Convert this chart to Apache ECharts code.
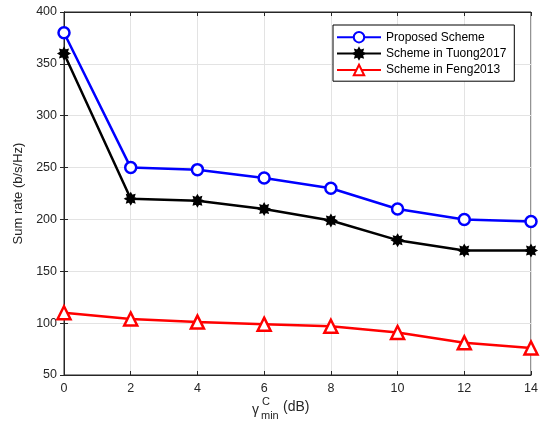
<!DOCTYPE html>
<html>
<head>
<meta charset="utf-8">
<script src="https://cdn.jsdelivr.net/npm/echarts@6/dist/echarts.min.js"></script>
<style>
  html, body { margin: 0; padding: 0; background: #fff; }
  #chart { width: 543px; height: 430px; }
</style>
</head>
<body>
<div id="chart"></div>
<script>
// data
const gammaDb = [0, 2, 4, 6, 8, 10, 12, 14];
const proposed = [380, 250, 248, 240, 230, 210, 200, 198];
const tuong2017 = [360, 220, 218, 210, 199, 180, 170, 170];
const feng2013 = [110, 104, 101, 99, 97, 91, 81, 76];
const seriesNames = ["Proposed Scheme", "Scheme in Tuong2017", "Scheme in Feng2013"];

// 8 point star for the black markers
function starPath() {
  let p = [];
  for (let k = 0; k < 16; k++) {
    const a = (k * Math.PI) / 8;
    const r = k % 2 ? 0.62 : 1;
    p.push((k ? "L" : "M") + (Math.sin(a) * r * 10).toFixed(2) + "," + (-Math.cos(a) * r * 10).toFixed(2));
  }
  return "path://" + p.join(" ") + " Z";
}

const font = "Liberation Sans, Arial, sans-serif";
const txt = "#262626";

var myChart = echarts.init(document.getElementById("chart"));

const pairs = (ys) => gammaDb.map((x, i) => [x, ys[i]]);

myChart.setOption({
  animation: false,
  textStyle: { fontFamily: font },
  grid: {
    left: 64, right: 12, top: 12, bottom: 55,
    show: true, borderColor: txt, borderWidth: 1
  },
  legend: {
    orient: "vertical",
    left: 333, top: 25,
    backgroundColor: "#fff",
    borderColor: "#000", borderWidth: 1,
    padding: [6, 8, 5, 3],
    itemGap: 4,
    itemWidth: 44, itemHeight: 13,
    textStyle: { fontSize: 12, color: "#000", fontFamily: font },
    data: seriesNames
  },
  xAxis: [
    {
      type: "value", min: 0, max: 14, interval: 2,
      axisLine: { show: true, lineStyle: { color: txt } },
      axisTick: { show: true, inside: true, length: 4, lineStyle: { color: txt } },
      axisLabel: { color: txt, fontSize: 12.5, margin: 7 },
      splitLine: { show: true, lineStyle: { color: "#e3e3e3" } }
    },
    {
      type: "value", min: 0, max: 14, interval: 2, position: "top",
      axisLine: { show: true, lineStyle: { color: txt } },
      axisTick: { show: true, inside: true, length: 4, lineStyle: { color: txt } },
      axisLabel: { show: false },
      splitLine: { show: false }
    }
  ],
  yAxis: [
    {
      type: "value", min: 50, max: 400, interval: 50,
      name: "Sum rate (b/s/Hz)",
      nameLocation: "middle", nameGap: 38, nameRotate: 90,
      nameTextStyle: { color: txt, fontSize: 13, fontFamily: font },
      axisLine: { show: true, lineStyle: { color: txt } },
      axisTick: { show: true, inside: true, length: 4, lineStyle: { color: txt } },
      axisLabel: { color: txt, fontSize: 12.5, margin: 7 },
      splitLine: { show: true, lineStyle: { color: "#e3e3e3" } }
    },
    {
      type: "value", min: 50, max: 400, interval: 50, position: "right",
      axisLine: { show: true, lineStyle: { color: txt } },
      axisTick: { show: true, inside: true, length: 4, lineStyle: { color: txt } },
      axisLabel: { show: false },
      splitLine: { show: false }
    }
  ],
  graphic: [
    {
      type: "group", left: 252, top: 396,
      children: [
        { type: "text", x: 0, y: 6, style: { text: "γ", font: "14px " + font, fill: txt } },
        { type: "text", x: 10, y: -1, style: { text: "C", font: "11px " + font, fill: txt } },
        { type: "text", x: 9, y: 13, style: { text: "min", font: "11px " + font, fill: txt } },
        { type: "text", x: 31, y: 3, style: { text: "(dB)", font: "14px " + font, fill: txt } }
      ]
    }
  ],
  series: [
    {
      name: seriesNames[0], type: "line", data: pairs(proposed),
      color: "#0000ff",
      lineStyle: { width: 2.5, color: "#0000ff" },
      symbol: "circle", symbolSize: 11,
      itemStyle: { color: "#fff", borderColor: "#0000ff", borderWidth: 2.5 },
      z: 3
    },
    {
      name: seriesNames[1], type: "line", data: pairs(tuong2017),
      color: "#000",
      lineStyle: { width: 2.5, color: "#000" },
      symbol: starPath(), symbolSize: 11,
      itemStyle: { color: "#000", borderColor: "#000", borderWidth: 1.5 },
      z: 2
    },
    {
      name: seriesNames[2], type: "line", data: pairs(feng2013),
      color: "#ff0000",
      lineStyle: { width: 2.5, color: "#ff0000" },
      symbol: "triangle", symbolSize: 13,
      itemStyle: { color: "#fff", borderColor: "#ff0000", borderWidth: 2.5 },
      z: 2
    }
  ]
});
</script>
</body>
</html>
